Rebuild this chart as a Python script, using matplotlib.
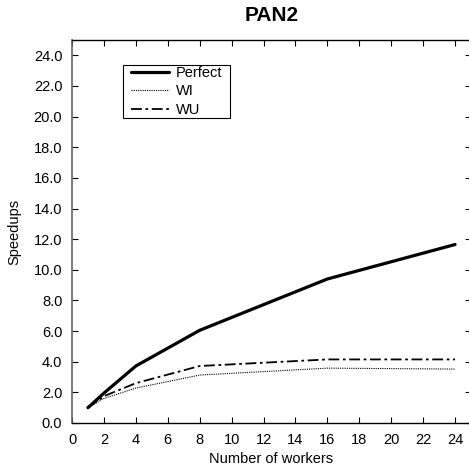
import matplotlib
matplotlib.use("Agg")
import matplotlib.pyplot as plt
from matplotlib.patches import Rectangle

workers = [1, 2, 4, 8, 16, 24]
perfect = [1.0, 1.95, 3.72, 6.05, 9.4, 11.65]
wi = [1.0, 1.6, 2.28, 3.13, 3.58, 3.52]
wu = [1.0, 1.75, 2.6, 3.72, 4.15, 4.15]
xticks = list(range(0, 25, 2))
yticks = [i * 2.0 for i in range(13)]

plt.rcParams['font.family'] = ['Liberation Sans', 'DejaVu Sans']

fig = plt.figure(figsize=(4.69, 4.68), dpi=100)
W, H = 469, 468
ax = fig.add_axes([72 / W, 1 - 423 / H, (471 - 72) / W, (423 - 40) / H])

ax.plot(workers, perfect, color='black', lw=2.3, label='Perfect', solid_capstyle='round')
ax.plot(workers, wi, color='black', lw=0.8, linestyle=(0, (1, 1)), label='WI')
ax.plot(workers, wu, color='black', lw=1.3, linestyle=(0, (6, 2, 1.5, 2)), label='WU')

ax.set_xlim(0, 25)
ax.set_ylim(0, 25)
ax.set_xticks(xticks)
ax.set_xticklabels([str(t) for t in xticks])
ax.set_yticks(yticks)
ax.set_yticklabels([f"{t:.1f}" for t in yticks])
ax.tick_params(direction='in', length=4, width=0.8, labelsize=10.5, top=True, right=True, pad=7)
for s in ['top', 'bottom', 'right']:
    ax.spines[s].set_linewidth(1.0)
ax.spines['left'].set_color('#666666')
ax.spines['left'].set_linewidth(1.2)

ax.set_xlabel('Number of workers', fontsize=10.5, labelpad=4)
ax.set_ylabel('Speedups', fontsize=10.5, labelpad=9)
ax.set_title('PAN2', fontsize=15, fontweight='bold', pad=14)

leg = ax.legend(loc='upper left', bbox_to_anchor=((131 - 72) / 399, 1 - (66 - 40) / 383),
                fontsize=10.5, frameon=False,
                handlelength=2.6, borderpad=0.0, labelspacing=0.3, handletextpad=0.45,
                borderaxespad=0)

fig.canvas.draw()
bb = leg.get_window_extent()
padx, pady = 8, 1.5
rect = Rectangle((bb.x0 - padx, bb.y0 - pady), bb.width + 2 * padx, bb.height + 2 * pady,
                 transform=None, fill=False, edgecolor='black', linewidth=0.8, zorder=5)
fig.add_artist(rect)

fig.savefig('out.png', dpi=100)
